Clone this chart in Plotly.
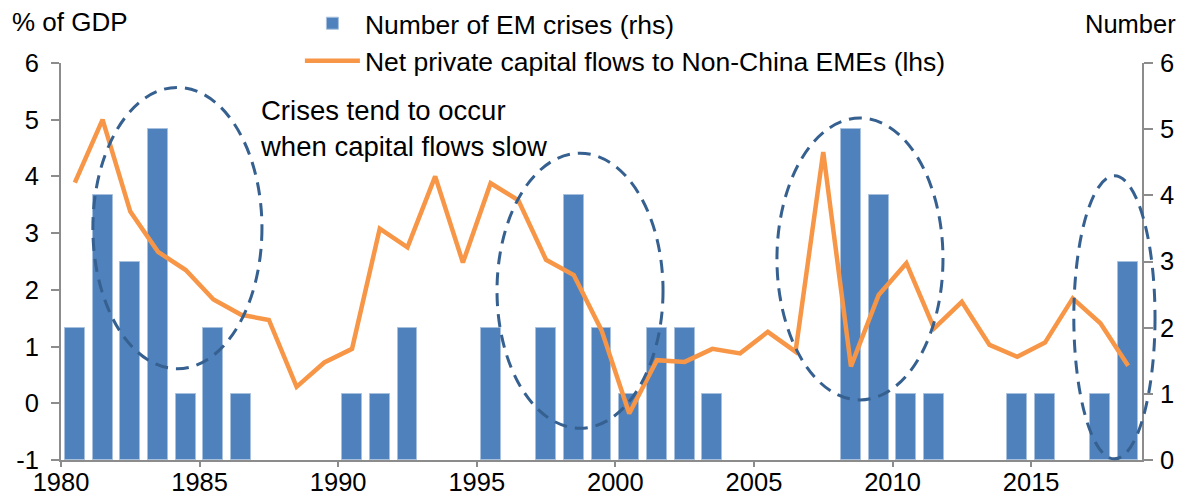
import plotly.graph_objects as go

years = list(range(1980, 2019))
crises = [2, 4, 3, 5, 1, 2, 1, 0, 0, 0,
          1, 1, 2, 0, 0, 2, 0, 2, 4, 2,
          1, 2, 2, 1, 0, 0, 0, 0, 5, 4,
          1, 1, 0, 0, 1, 1, 0, 1, 3]
flows = [3.89, 5.00, 3.38, 2.67, 2.35, 1.83, 1.56, 1.47, 0.29, 0.72,
         0.96, 3.08, 2.75, 4.00, 2.48, 3.88, 3.58, 2.53, 2.26, 1.29,
         -0.18, 0.76, 0.73, 0.96, 0.88, 1.26, 0.91, 4.43, 0.65, 1.91,
         2.47, 1.32, 1.79, 1.03, 0.82, 1.07, 1.85, 1.41, 0.66]
tick_years = [1980, 1985, 1990, 1995, 2000, 2005, 2010, 2015]
left_ticks = [-1, 0, 1, 2, 3, 4, 5, 6]
right_ticks = [0, 1, 2, 3, 4, 5, 6]

# highlighted periods (x in years, y in lhs units)
ellipses = [
    (1980.65, 1986.75, 0.61, 5.57),
    (1995.23, 2001.22, -0.44, 4.41),
    (2005.33, 2011.32, 0.06, 5.03),
    (2016.04, 2018.97, -0.98, 4.01),
]

FONT = "Arial, Liberation Sans, sans-serif"
AXIS_COL = "#8c8c8c"
XR = [years[0] - 0.5, years[-1] + 0.5]
YL = [-1, 6]
YR = [0, 6]

fig = go.Figure()
fig.add_trace(go.Bar(
    x=years, y=crises, name="Number of EM crises (rhs)",
    marker=dict(color="#4F81BD",
                line=dict(color="#A7C0DE", width=[1 if v > 0 else 0 for v in crises])),
    width=0.72, yaxis="y",
))
fig.add_trace(go.Scatter(
    x=years, y=flows, name="Net private capital flows to Non-China EMEs (lhs)",
    mode="lines", line=dict(color="#F79646", width=4.5), yaxis="y2",
))

shapes = []
for x0, x1, y0, y1 in ellipses:
    shapes.append(dict(
        type="circle", xref="paper", yref="paper",
        x0=(x0 - XR[0]) / (XR[1] - XR[0]), x1=(x1 - XR[0]) / (XR[1] - XR[0]),
        y0=(y0 - YL[0]) / (YL[1] - YL[0]), y1=(y1 - YL[0]) / (YL[1] - YL[0]),
        line=dict(color="#35608F", width=3, dash="13px,8px"),
        layer="above",
    ))

fig.update_layout(
    width=1188, height=497,
    margin=dict(l=61, r=46, t=63, b=37, autoexpand=False),
    paper_bgcolor="white", plot_bgcolor="white",
    font=dict(family=FONT, size=26, color="black"),
    bargap=0,
    showlegend=True,
    legend=dict(x=0.221, y=1.16, xanchor="left", yanchor="top",
                font=dict(size=26.5), bgcolor="rgba(0,0,0,0)",
                itemwidth=55, tracegroupgap=0),
    xaxis=dict(range=XR, tickmode="array",
               tickvals=[t - 0.5 for t in tick_years],
               ticktext=[str(t) for t in tick_years],
               showline=True, linecolor=AXIS_COL, linewidth=2,
               ticks="outside", ticklen=5, tickcolor=AXIS_COL, tickwidth=2,
               showgrid=False, zeroline=False, automargin=False,
               ticklabelstandoff=-7,
               tickfont=dict(size=25.5)),
    yaxis=dict(range=YR, side="right", tickmode="array", tickvals=right_ticks,
               ticktext=[str(t) for t in right_ticks],
               showline=True, linecolor=AXIS_COL, linewidth=2,
               ticks="outside", ticklen=9, tickcolor=AXIS_COL, tickwidth=2,
               showgrid=False, zeroline=False, ticklabelstandoff=2,
               automargin=False, tickfont=dict(size=25.5)),
    yaxis2=dict(range=YL, side="left", overlaying="y", tickmode="array",
                tickvals=left_ticks, ticktext=[str(t) for t in left_ticks],
                showline=True, linecolor=AXIS_COL, linewidth=2,
                ticks="outside", ticklen=8, tickcolor=AXIS_COL, tickwidth=2,
                showgrid=False, zeroline=False, ticklabelstandoff=7,
                automargin=False, tickfont=dict(size=25.5)),
    shapes=shapes,
    annotations=[
        dict(text="% of GDP", xref="paper", yref="paper", x=-0.0472, y=1.103,
             xanchor="left", yanchor="middle", showarrow=False,
             font=dict(size=26)),
        dict(text="Number", xref="paper", yref="paper", x=1.0333, y=1.098,
             xanchor="right", yanchor="middle", showarrow=False,
             font=dict(size=25.5)),
        dict(text="Crises tend to occur<br>when capital flows slow",
             xref="paper", yref="paper", x=(258 - 61) / 1081, y=(460 - 128) / 397,
             xanchor="left", yanchor="middle", align="left", showarrow=False,
             font=dict(size=27.5)),
    ],
)

fig.write_html("out.html", config={"displayModeBar": False},
               post_script="document.body.style.margin='0';document.body.style.padding='0';")
